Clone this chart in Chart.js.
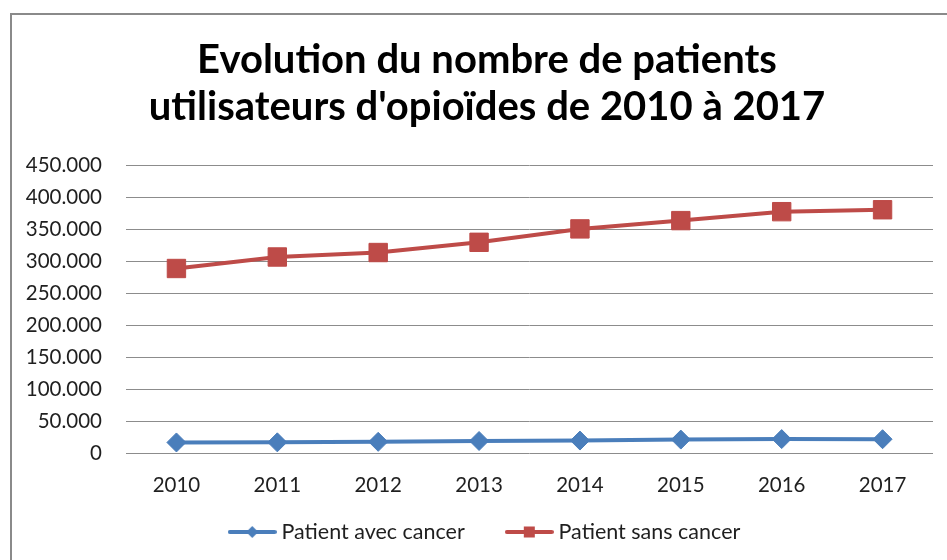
<!DOCTYPE html>
<html lang="fr">
<head>
<meta charset="utf-8">
<title>Evolution du nombre de patients utilisateurs d'opioïdes</title>
<script src="https://cdn.jsdelivr.net/npm/chart.js@4.4.1/dist/chart.umd.min.js"></script>
<style>
  html, body { margin: 0; padding: 0; background: #fff; }
  .chart-wrap { position: relative; width: 947px; height: 560px; overflow: hidden; }
  .chart-frame { position: absolute; left: 10px; top: 13px; right: -10px; bottom: -10px;
                 border-left: 2px solid #8a8a8a; border-top: 2px solid #8a8a8a; }
  #opioidChart { position: absolute; left: 0; top: 0; }
</style>
</head>
<body>
<div class="chart-wrap">
  <div class="chart-frame"></div>
  <canvas id="opioidChart" width="947" height="560"></canvas>
</div>
<script>
// données
const years = ['2010', '2011', '2012', '2013', '2014', '2015', '2016', '2017'];
const avecCancer = [16500, 16700, 17500, 18800, 19500, 21000, 21800, 21600];
const sansCancer = [289000, 307000, 314000, 330000, 351000, 364000, 378000, 381000];
const yTicks = [0, 50000, 100000, 150000, 200000, 250000, 300000, 350000, 400000, 450000];
const seriesNames = ['Patient avec cancer', 'Patient sans cancer'];
const titleLines = ['Evolution du nombre de patients', "utilisateurs d'opioïdes de 2010 à 2017"];

const BLUE = '#4a7ebb';
const RED = '#be4b48';
const TEXT = '#1f1f1f';
const FONT = 'Lato';
const LEGEND_SIZE = 21.5;
const LEGEND_PAD = 46;

// "450000" -> "450.000"
const fmt = v => String(v).replace(/\B(?=(\d{3})+(?!\d))/g, '.');

// petite icône ligne + marqueur pour la légende (comme Excel)
function legendIcon(color, shape) {
  const c = document.createElement('canvas');
  c.width = 49; c.height = 14;
  const g = c.getContext('2d');
  g.strokeStyle = color; g.fillStyle = color;
  g.lineWidth = 4; g.lineCap = 'round';
  g.beginPath(); g.moveTo(2, 7); g.lineTo(47, 7); g.stroke();
  if (shape === 'rect') {
    g.fillRect(19, 1.5, 11, 11);
  } else {
    g.beginPath();
    g.moveTo(24.5, 1); g.lineTo(30.5, 7); g.lineTo(24.5, 13); g.lineTo(18.5, 7);
    g.closePath(); g.fill();
  }
  return c;
}
const icons = [legendIcon(BLUE, 'rectRot'), legendIcon(RED, 'rect')];

// les étiquettes débordent de la boîte de l'axe : pas de découpe
const noClip = s => { s._computeLabelArea = () => null; };

new Chart(document.getElementById('opioidChart'), {
  type: 'line',
  data: {
    labels: years,
    datasets: [
      { label: seriesNames[0], data: avecCancer, borderColor: BLUE, backgroundColor: BLUE,
        borderWidth: 4, pointStyle: 'rectRot', pointRadius: 9.5, pointBorderWidth: 1 },
      { label: seriesNames[1], data: sansCancer, borderColor: RED, backgroundColor: RED,
        borderWidth: 4, pointStyle: 'rect', pointRadius: 13, pointBorderWidth: 1 }
    ]
  },
  options: {
    responsive: false,
    animation: false,
    devicePixelRatio: 1,
    layout: { padding: { left: 41, right: 14, top: 0, bottom: 7.25 } },
    plugins: {
      tooltip: { enabled: false },
      title: {
        display: true,
        text: titleLines,
        color: '#000',
        font: { family: FONT, size: 40, weight: 'bold', lineHeight: 47 / 40 },
        padding: { top: 36.5, bottom: 35.2 }
      },
      legend: {
        position: 'bottom',
        labels: {
          color: TEXT,
          font: { family: FONT, size: LEGEND_SIZE },
          usePointStyle: true,
          pointStyleWidth: 37,
          padding: LEGEND_PAD,
          generateLabels: ch => Chart.defaults.plugins.legend.labels.generateLabels(ch)
            .map((item, i) => Object.assign(item, { pointStyle: icons[i] }))
        }
      }
    },
    scales: {
      x: {
        offset: true,
        grid: { display: false },
        border: { display: false },
        ticks: { color: TEXT, font: { family: FONT, size: 20.5 }, padding: 12 },
        afterFit: s => { s.height = 22.25; noClip(s); }
      },
      y: {
        min: 0,
        max: 450000,
        border: { display: false },
        grid: { color: '#8c8c8c', lineWidth: 1, drawTicks: false },
        ticks: { color: TEXT, font: { family: FONT, size: 20.5 }, padding: 24,
                 callback: v => fmt(v) },
        afterBuildTicks: s => { s.ticks = yTicks.map(v => ({ value: v })); },
        afterFit: s => { s.width = 85; noClip(s); }
      }
    }
  }
});
</script>
</body>
</html>
